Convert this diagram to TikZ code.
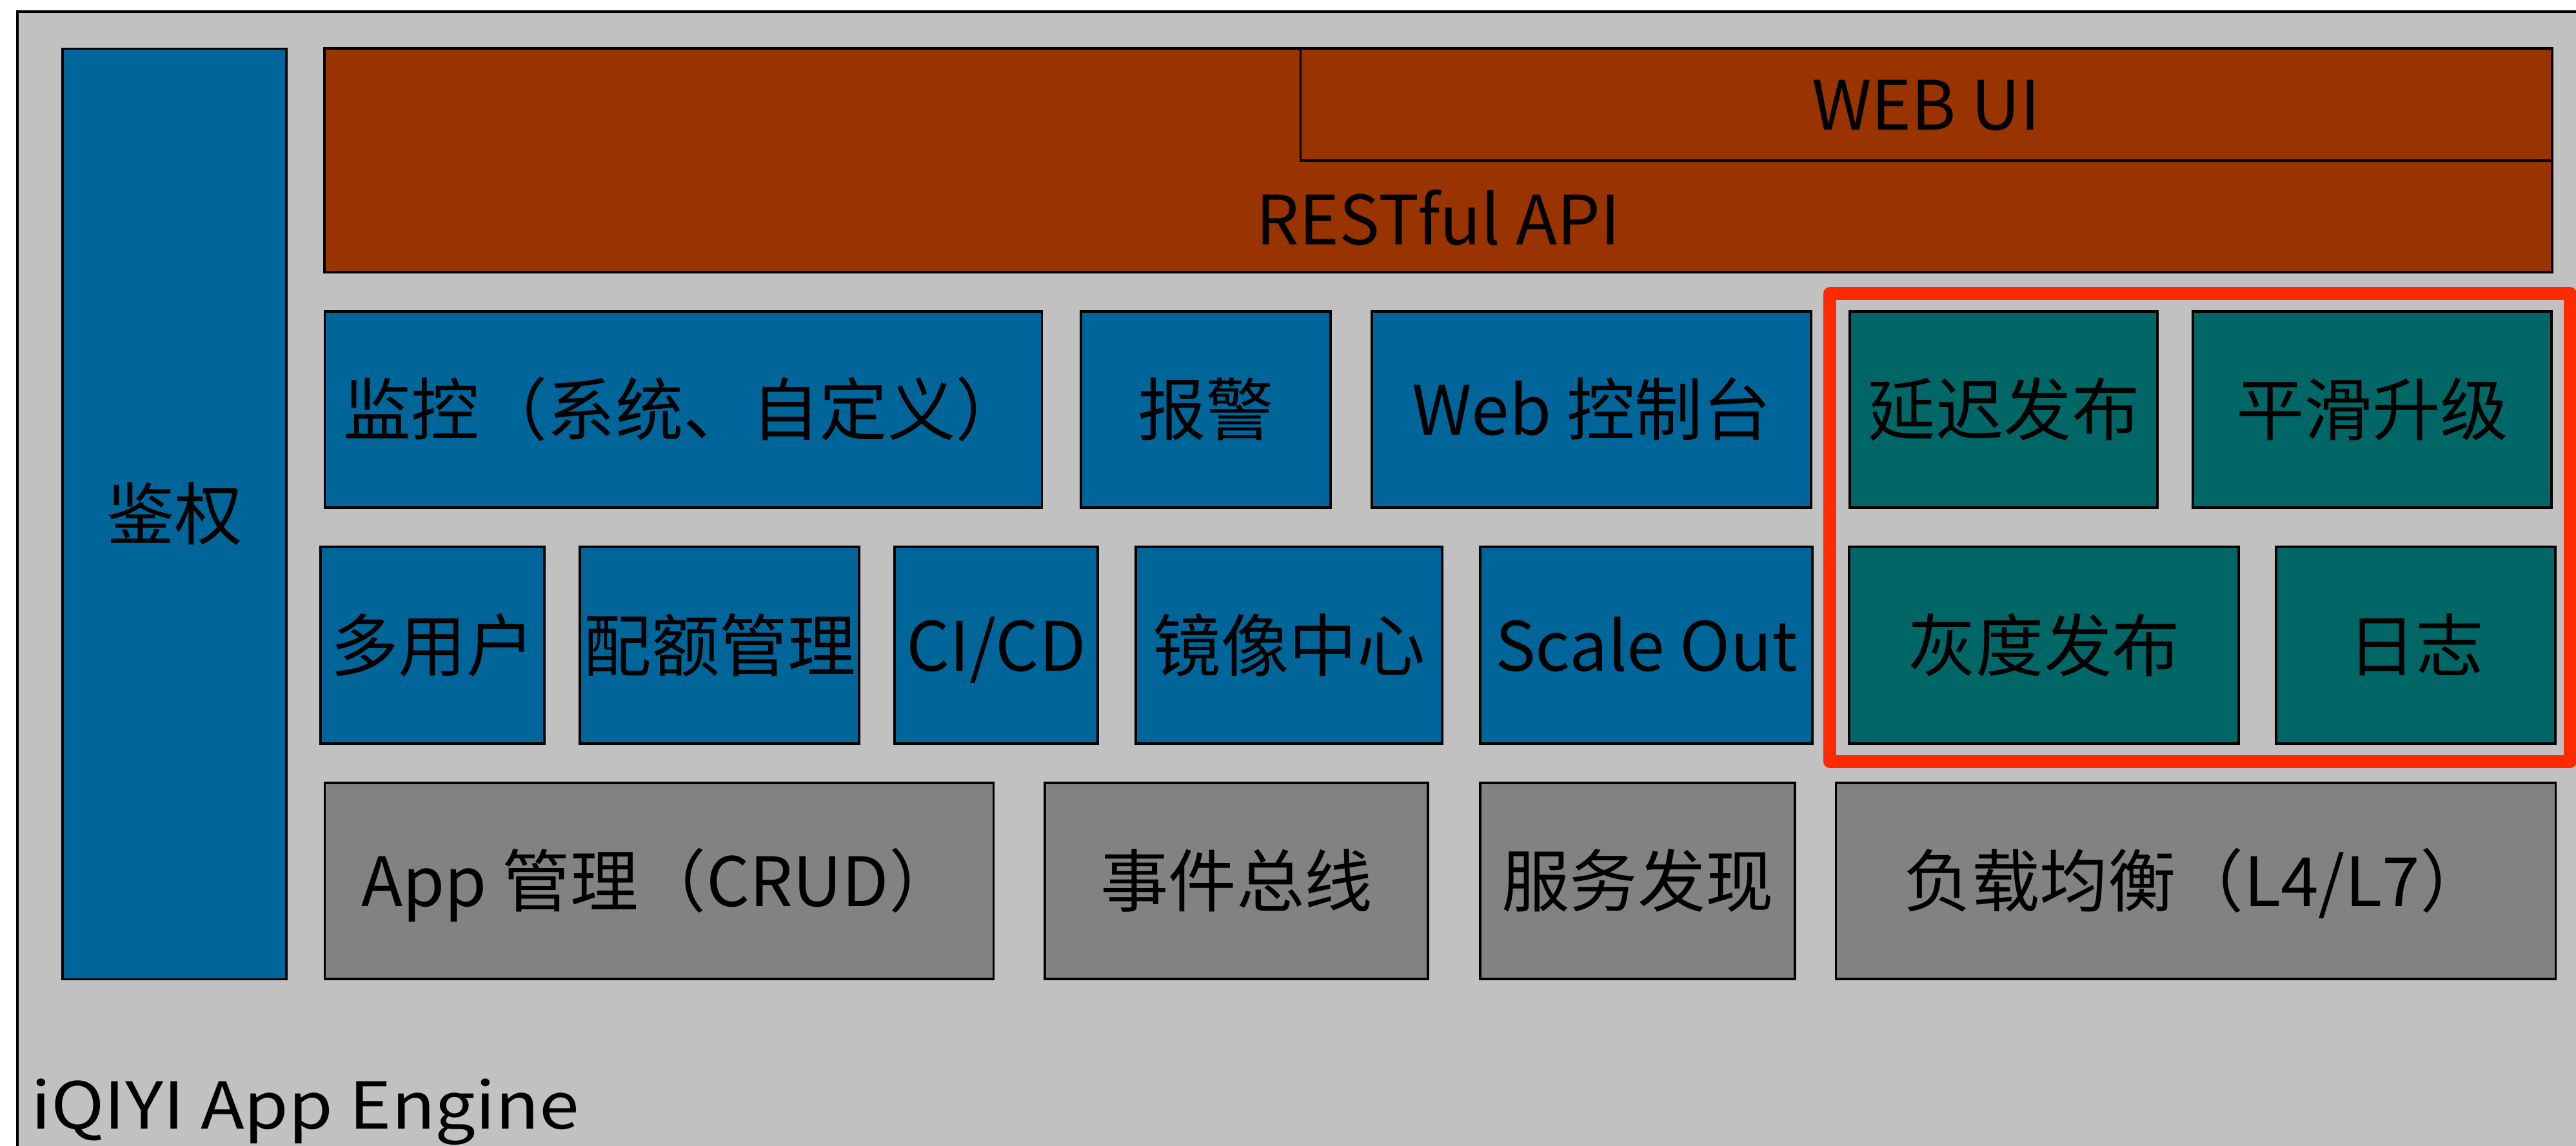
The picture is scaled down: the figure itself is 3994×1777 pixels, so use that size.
\documentclass[tikz,border=0pt]{standalone}
\usepackage{fontspec}
\usepackage{graphicx}
\setmainfont{Noto Sans CJK SC}
\usetikzlibrary{decorations.pathmorphing}
\definecolor{bgray}{HTML}{C1C1C1}
\definecolor{bblue}{HTML}{006699}
\definecolor{borange}{HTML}{993300}
\definecolor{bteal}{HTML}{006666}
\definecolor{bdark}{HTML}{828282}
\definecolor{bred}{HTML}{FF2A00}
\begin{document}
\begin{tikzpicture}[x=0.01cm,y=-0.01cm,
  box/.style={draw=black, line width=1pt, inner sep=0pt, outer sep=0pt,
    text height=22.5pt, text depth=0pt, font=\fontsize{30}{36}\selectfont},
  bluebox/.style={box, fill=bblue},
  tealbox/.style={box, fill=bteal},
  graybox/.style={box, fill=bdark},
  orangebox/.style={box, fill=borange},
  row1/.style={minimum height=3.04cm},
  row2/.style={minimum height=3.05cm},
  row3/.style={minimum height=3.04cm},
  lbl/.style={inner sep=0pt, text height=22.5pt, text depth=0pt, font=\fontsize{30}{36}\selectfont},
  focus/.style={draw=bred, line width=5.5pt, line join=round},
  focusrough/.style={draw=bred, line width=1.5pt, line join=round,
    decorate, decoration={random steps, segment length=3pt, amplitude=1.2pt}}
]
\useasboundingbox (0,0) rectangle (3994,1777);
\clip (0,0) rectangle (3994,1777);
\fill[white] (0,0) rectangle (3994,1777);
\draw[fill=bgray, line width=1.2pt] (27,18) rectangle (4200,2000);

% left column
\node[bluebox, minimum width=3.47cm, minimum height=14.42cm] (auth) at (270.5,797) {鉴权};

% API layer
\node[orangebox, minimum width=34.52cm, minimum height=3.47cm] (rest) at (2230,248.5) {};
\node[orangebox, minimum width=19.39cm, minimum height=1.74cm] (webui) at (2986.5,162) {WEB UI};
\node[lbl] (restlbl) at (2230,340) {RESTful API};

% row 1
\node[bluebox, row1, minimum width=11.11cm] (mon) at (1059.5,635) {监控（系统、自定义）};
\node[bluebox, row1, minimum width=3.87cm] (alarm) at (1869.5,635) {报警};
\node[bluebox, row1, minimum width=6.81cm] (webc) at (2467.5,635) {Web 控制台};
\node[tealbox, row1, minimum width=4.77cm] (delay) at (3106.5,635) {延迟发布};
\node[tealbox, row1, minimum width=5.56cm] (smooth) at (3678,635) {平滑升级};

% row 2
\node[bluebox, row2, minimum width=3.47cm] (multi) at (670.5,1000.5) {多用户};
\node[bluebox, row2, minimum width=4.33cm] (quota) at (1115.5,1000.5) {配额管理};
\node[bluebox, row2, minimum width=3.15cm] (cicd) at (1544.5,1000.5) {CI/CD};
\node[bluebox, row2, minimum width=4.75cm] (image) at (1998.5,1000.5) {镜像中心};
\node[bluebox, row2, minimum width=5.15cm] (scale) at (2552.5,1000.5) {Scale Out};
\node[tealbox, row2, minimum width=6.04cm] (gray) at (3169,1000.5) {灰度发布};
\node[tealbox, row2, minimum width=4.33cm] (log) at (3745.5,1000.5) {日志};

% row 3
\node[graybox, row3, minimum width=10.36cm] (app) at (1022,1366) {App 管理（CRUD）};
\node[graybox, row3, minimum width=5.94cm] (event) at (1917,1366) {事件总线};
\node[graybox, row3, minimum width=4.88cm] (disc) at (2539,1366) {服务发现};
\node[graybox, row3, minimum width=11.15cm] (lb) at (3404.5,1366) {负载均衡（L4/L7）};

% highlight
\draw[focus] (2837,455) rectangle (3985,1181);
\draw[focusrough] (2837,455) rectangle (3985,1181);

% title
\node[inner sep=0pt, anchor=base west, font=\fontsize{28.5}{34}\selectfont] (title) at (48,1750) {\scalebox{1.11}[1]{iQIYI App Engine}};
\end{tikzpicture}
\end{document}
